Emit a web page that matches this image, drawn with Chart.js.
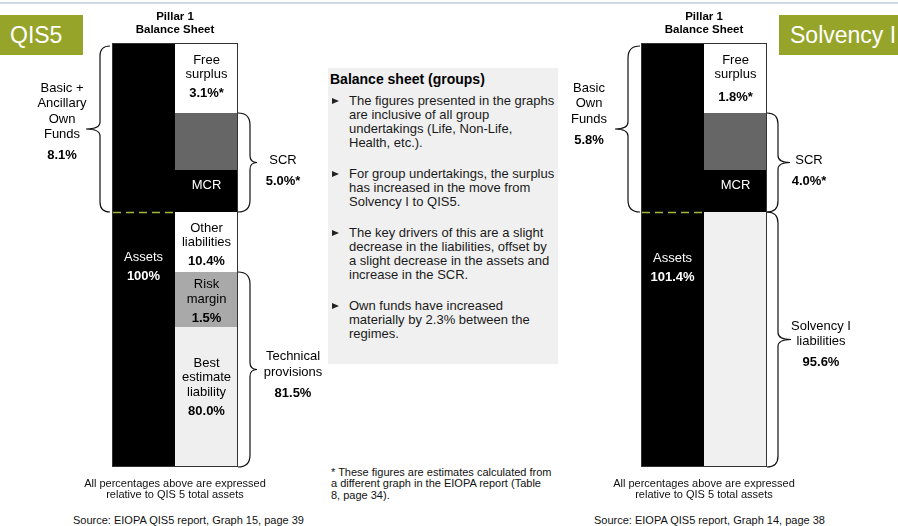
<!DOCTYPE html>
<html>
<head>
<meta charset="utf-8">
<title>Balance sheet (groups)</title>
<script src="https://cdn.jsdelivr.net/npm/chart.js@4.4.1/dist/chart.umd.min.js"></script>
<style>
  body { margin: 0; background: #fff; font-family: "Liberation Sans", Arial, sans-serif; color: #000; }
  #page { position: relative; width: 898px; height: 526px; overflow: hidden; }
  .abs { position: absolute; }
  .sheet { position: absolute; top: 0; height: 480px; }
  .rule { left: 0; right: 0; top: 2px; height: 2px; background: #cfd8e3; }
  .tag { top: 15px; height: 40px; line-height: 40px; background: #96a52a; color: #fff; font-size: 23px; white-space: nowrap; }
  .pillar { top: 10px; width: 140px; text-align: center; font-weight: bold; font-size: 11.5px; line-height: 13px; }
  .panel { left: 328px; top: 68px; width: 230px; height: 296px; background: #f0f0f0; padding-top: 3px; box-sizing: border-box; }
  .panel h3 { margin: 0 0 7px 2px; font-size: 14px; line-height: 16px; }
  .panel .b { position: relative; padding-left: 21px; font-size: 13px; line-height: 14px; margin-bottom: 17px; white-space: nowrap; color: #1a1a1a; }
  .panel .b::before { content: ""; position: absolute; left: 4px; top: 4px; border-left: 7px solid #222; border-top: 3.5px solid transparent; border-bottom: 3.5px solid transparent; }
  .small { font-size: 11px; line-height: 11.4px; white-space: nowrap; color: #111; }
  .foot { width: 220px; text-align: center; top: 478px; }
  .src { top: 515px; }
</style>
</head>
<body>
<div id="page">
  <div class="sheet" style="left:0;width:330px"><canvas id="qisChart"></canvas></div>
  <div class="sheet" style="left:560px;width:338px"><canvas id="s1Chart"></canvas></div>

  <div class="abs rule"></div>
  <div class="abs tag" style="left:0;width:73px;padding-left:10px">QIS5</div>
  <div class="abs tag" style="left:779px;width:140px;padding-left:11px">Solvency I</div>

  <div class="abs pillar" style="left:105px">Pillar 1<br>Balance Sheet</div>
  <div class="abs pillar" style="left:634px">Pillar 1<br>Balance Sheet</div>

  <div class="abs panel">
    <h3>Balance sheet (groups)</h3>
    <div class="b">The figures presented in the graphs<br>are inclusive of all group<br>undertakings (Life, Non-Life,<br>Health, etc.).</div>
    <div class="b">For group undertakings, the surplus<br>has increased in the move from<br>Solvency I to QIS5.</div>
    <div class="b">The key drivers of this are a slight<br>decrease in the liabilities, offset by<br>a slight decrease in the assets and<br>increase in the SCR.</div>
    <div class="b">Own funds have increased<br>materially by 2.3% between the<br>regimes.</div>
  </div>

  <div class="abs small" style="left:331px;top:467px">* These figures are estimates calculated from<br>a different graph in the EIOPA report (Table<br>8, page 34).</div>

  <div class="abs small foot" style="left:65px">All percentages above are expressed<br>relative to QIS 5 total assets</div>
  <div class="abs small foot" style="left:594px">All percentages above are expressed<br>relative to QIS 5 total assets</div>
  <div class="abs small src" style="left:73px">Source: EIOPA QIS5 report, Graph 15, page 39</div>
  <div class="abs small src" style="left:594px">Source: EIOPA QIS5 report, Graph 14, page 38</div>
</div>

<script>
// Two columns per balance sheet
const sheetColumns = ['Assets', 'Liabilities and own funds'];

// QIS5 group balance sheet, % of QIS5 total assets
const qisAssets = 100;
const qisLiabNames = ['Best\nestimate\nliability', 'Risk\nmargin', 'Other\nliabilities'];
const qisLiabValues = [80.0, 1.5, 10.4];
const qisScr = 5.0;
const qisMcr = 2.1;          // MCR is not printed, rough share of the SCR
const qisFreeSurplus = 3.1;

// Solvency I group balance sheet, same base
const s1Assets = 101.4;
const s1LiabNames = ['Solvency I\nliabilities'];
const s1LiabValues = [95.6];
const s1Scr = 4.0;
const s1Mcr = 1.7;           // estimated as for QIS5
const s1FreeSurplus = 1.8;

const FONT = '"Liberation Sans", Arial, sans-serif';

// Schematic axis: each block gets a fixed height, values are mapped linearly inside a block
class SchematicScale extends Chart.LinearScale {
  decimalFor(v) {
    const stops = this.options.stops, heights = this.options.heights;
    const total = heights.reduce((a, b) => a + b, 0);
    let acc = 0;
    for (let i = 0; i < heights.length; i++) {
      const lo = stops[i], hi = stops[i + 1];
      if (v < hi || i === heights.length - 1) {
        const t = Math.min(Math.max((v - lo) / (hi - lo), 0), 1);
        return (acc + t * heights[i]) / total;
      }
      acc += heights[i];
    }
    return 0;
  }
  getPixelForValue(value) {
    if (value === null || value === undefined || isNaN(value)) return NaN;
    return this.getPixelForDecimal(this.decimalFor(value));
  }
}
SchematicScale.id = 'schematic';
SchematicScale.defaults = Chart.LinearScale.defaults;
Chart.register(SchematicScale);

const sum = a => a.reduce((x, y) => x + y, 0);
const pct = (v, star) => (v >= 100 && v % 1 === 0 ? String(v) : v.toFixed(1)) + '%' + (star ? '*' : '');

function drawBlock(ctx, lines, value, x, cy, o) {
  const step = o.step || 14.5;
  const gap = value ? (o.gap || 19) : 0;
  let y0 = cy - ((lines.length - 1) * step + gap) / 2;
  ctx.fillStyle = o.color || '#000';
  ctx.textAlign = 'center';
  ctx.textBaseline = 'middle';
  ctx.font = '13px ' + FONT;
  lines.forEach((t, i) => ctx.fillText(t, x, y0 + i * step));
  if (value) {
    ctx.font = 'bold 13px ' + FONT;
    ctx.fillText(value, x, y0 + (lines.length - 1) * step + gap);
  }
}

// curly brace between y0 and y1, opening towards dir (-1 left, +1 right)
function drawBrace(ctx, x0, y0, y1, dir, arm, depth) {
  const lx = x0 + dir * arm, tx = x0 + dir * depth, ym = (y0 + y1) / 2, m = 7;
  ctx.beginPath();
  ctx.moveTo(x0, y0);
  ctx.quadraticCurveTo(lx, y0, lx, y0 + arm);
  ctx.lineTo(lx, ym - m);
  ctx.quadraticCurveTo(lx, ym, tx, ym);
  ctx.quadraticCurveTo(lx, ym, lx, ym + m);
  ctx.lineTo(lx, y1 - arm);
  ctx.quadraticCurveTo(lx, y1, x0, y1);
  ctx.stroke();
  return { x: tx, y: ym };
}

function sheetPlugin(s, segs, liabTotal, total) {
  return {
    id: 'sheetMarks',
    afterDatasetsDraw(chart) {
      const ctx = chart.ctx, y = chart.scales.y;
      const assetsBar = chart.getDatasetMeta(0).data[0];
      const colW = assetsBar.width;
      const left = assetsBar.x - colW / 2, right = left + 2 * colW;
      const top = y.getPixelForValue(total), bottom = y.getPixelForValue(0);
      ctx.save();

      // outline of the sheet
      ctx.strokeStyle = '#333';
      ctx.lineWidth = 1;
      ctx.strokeRect(left + 0.5, top + 0.5, right - left - 1, bottom - top - 1);

      // dashed line where own funds start
      const yl = y.getPixelForValue(liabTotal);
      ctx.strokeStyle = '#a3b83a';
      ctx.lineWidth = 1.6;
      ctx.setLineDash([8, 5]);
      ctx.beginPath();
      ctx.moveTo(left + 1, yl + 0.5);
      ctx.lineTo(left + colW, yl + 0.5);
      ctx.stroke();
      ctx.setLineDash([]);

      // captions inside the blocks
      chart.data.datasets.forEach((ds, i) => {
        const cap = s.captions[ds.label];
        if (!cap) return;
        const el = chart.getDatasetMeta(i).data[i === 0 ? 0 : 1];
        const cy = (el.y + el.base) / 2 + (cap.dy || 0);
        const v = ds.data[i === 0 ? 0 : 1];
        drawBlock(ctx, ds.label.split('\n'), cap.bare ? null : pct(v, cap.star), el.x, cy, cap);
      });

      // braces with their totals
      const spans = {
        ownFunds: [liabTotal, total, s.scr + s.free],
        scr: [liabTotal, liabTotal + s.scr, s.scr],
        tp: [0, s.liabValues[0] + s.liabValues[1], s.liabValues[0] + s.liabValues[1]],
        liab: [0, liabTotal, liabTotal]
      };
      ctx.strokeStyle = '#111';
      ctx.lineWidth = 1.2;
      s.braces.forEach(b => {
        const [from, to, val] = spans[b.span];
        const x0 = b.dir < 0 ? left - b.gapX : right + b.gapX;
        const tip = drawBrace(ctx, x0, y.getPixelForValue(to) + (b.inset || 0), y.getPixelForValue(from), b.dir, b.arm, b.depth);
        drawBlock(ctx, b.name.split('\n'), pct(val, b.star), tip.x + b.dx, tip.y + b.dy, { step: 15.5, gap: 21 });
      });
      ctx.restore();
    }
  };
}

function buildSheet(s) {
  const segs = s.liabNames.map((n, i) => ({ name: n, value: s.liabValues[i], color: s.liabColors[i] }))
    .concat([
      { name: 'MCR', value: s.mcr, color: '#000000' },
      { name: 'SCR', value: s.scr - s.mcr, color: '#666666' },
      { name: 'Free\nsurplus', value: s.free, color: '#ffffff' }
    ]);
  const stops = [0];
  segs.forEach(g => stops.push(stops[stops.length - 1] + g.value));
  const liabTotal = sum(s.liabValues);
  const total = Math.max(s.assets, stops[stops.length - 1]);

  const datasets = [{ label: 'Assets', data: [s.assets, null], backgroundColor: '#000000' }]
    .concat(segs.map(g => ({ label: g.name, data: [null, g.value], backgroundColor: g.color })));

  new Chart(document.getElementById(s.canvas), {
    type: 'bar',
    data: { labels: sheetColumns, datasets: datasets },
    options: {
      responsive: true,
      maintainAspectRatio: false,
      animation: false,
      events: [],
      layout: { padding: s.padding },
      datasets: { bar: { barPercentage: 1, categoryPercentage: 1, inflateAmount: 0, borderWidth: 0 } },
      plugins: { legend: { display: false }, tooltip: { enabled: false } },
      scales: {
        x: { stacked: true, display: false },
        y: { type: 'schematic', stacked: true, display: false, min: 0, max: total, stops: stops, heights: s.heights }
      }
    },
    plugins: [sheetPlugin(s, segs, liabTotal, total)]
  });
}

buildSheet({
  canvas: 'qisChart',
  assets: qisAssets, liabNames: qisLiabNames, liabValues: qisLiabValues,
  liabColors: ['#efefef', '#a9a9a9', '#ffffff'],
  scr: qisScr, mcr: qisMcr, free: qisFreeSurplus,
  heights: [140, 55, 60, 42, 57, 70],
  padding: { left: 112, right: 92, top: 43, bottom: 13 },
  captions: {
    'Assets': { dy: 12, color: '#fff' },
    'Free\nsurplus': { dy: -1, star: true },
    'MCR': { dy: -6, color: '#fff', bare: true },
    'Other\nliabilities': { dy: 3 },
    'Risk\nmargin': { dy: 2 },
    'Best\nestimate\nliability': { dy: -10 }
  },
  braces: [
    { name: 'Basic +\nAncillary\nOwn\nFunds', span: 'ownFunds', dir: -1, gapX: 2, inset: 3, arm: 10, depth: 24, dx: -24, dy: -7 },
    { name: 'SCR', span: 'scr', dir: 1, gapX: 0, arm: 12, depth: 19, dx: 26, dy: 8, star: true },
    { name: 'Technical\nprovisions', span: 'tp', dir: 1, gapX: 0, arm: 12, depth: 19, dx: 36, dy: 5.5 }
  ]
});

buildSheet({
  canvas: 's1Chart',
  assets: s1Assets, liabNames: s1LiabNames, liabValues: s1LiabValues,
  liabColors: ['#f0f0f0'],
  scr: s1Scr, mcr: s1Mcr, free: s1FreeSurplus,
  heights: [255, 42, 57, 70],
  padding: { left: 81, right: 131, top: 43, bottom: 13 },
  captions: {
    'Assets': { dy: 12.5, color: '#fff' },
    'Free\nsurplus': { dy: 1, star: true, gap: 23 },
    'MCR': { dy: -6, color: '#fff', bare: true }
  },
  braces: [
    { name: 'Basic\nOwn\nFunds', span: 'ownFunds', dir: -1, gapX: 1, inset: 3, arm: 12, depth: 25, dx: -26, dy: -15 },
    { name: 'SCR', span: 'scr', dir: 1, gapX: 0, arm: 11, depth: 23, dx: 19, dy: 8, star: true },
    { name: 'Solvency I\nliabilities', span: 'liab', dir: 1, gapX: 0, arm: 11, depth: 24, dx: 30, dy: 5 }
  ]
});
</script>
</body>
</html>
